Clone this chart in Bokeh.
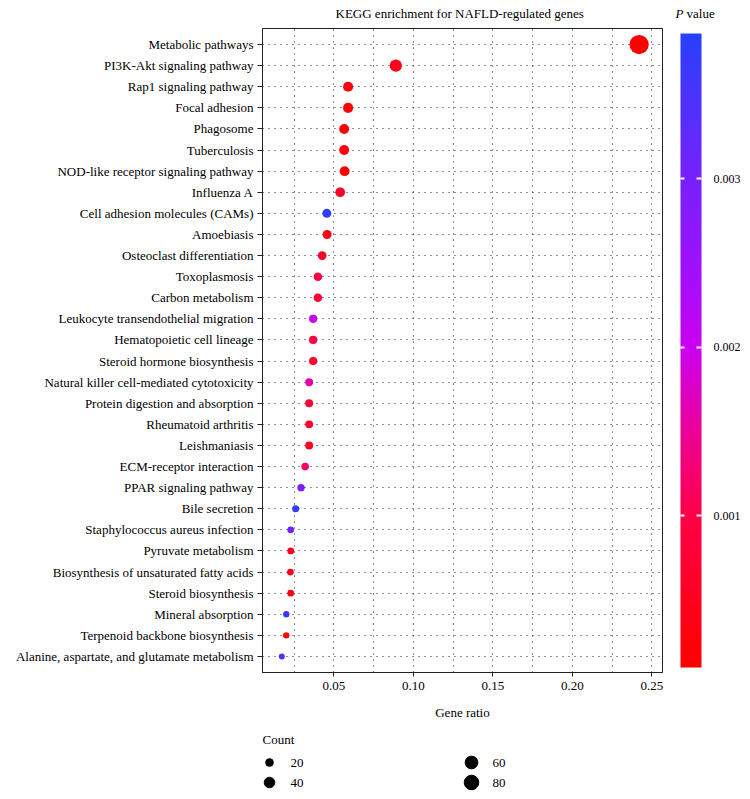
import numpy as np
from bokeh.plotting import figure
from bokeh.models import (ColumnDataSource, Range1d, FactorRange, LinearColorMapper, ColorBar,
                          FixedTicker, Label, PrintfTickFormatter)
from bokeh.layouts import column
from bokeh.embed import file_html
from bokeh.resources import INLINE
from bokeh.core.properties import value

# ---------------- data (top to bottom as in the chart) ----------------
pathways = [
    "Metabolic pathways",
    "PI3K-Akt signaling pathway",
    "Rap1 signaling pathway",
    "Focal adhesion",
    "Phagosome",
    "Tuberculosis",
    "NOD-like receptor signaling pathway",
    "Influenza A",
    "Cell adhesion molecules (CAMs)",
    "Amoebiasis",
    "Osteoclast differentiation",
    "Toxoplasmosis",
    "Carbon metabolism",
    "Leukocyte transendothelial migration",
    "Hematopoietic cell lineage",
    "Steroid hormone biosynthesis",
    "Natural killer cell-mediated cytotoxicity",
    "Protein digestion and absorption",
    "Rheumatoid arthritis",
    "Leishmaniasis",
    "ECM-receptor interaction",
    "PPAR signaling pathway",
    "Bile secretion",
    "Staphylococcus aureus infection",
    "Pyruvate metabolism",
    "Biosynthesis of unsaturated fatty acids",
    "Steroid biosynthesis",
    "Mineral absorption",
    "Terpenoid backbone biosynthesis",
    "Alanine, aspartate, and glutamate metabolism",
]
gene_ratio = [0.242, 0.089, 0.059, 0.059, 0.0565, 0.0565, 0.0568, 0.054, 0.0456, 0.0458,
              0.0427, 0.040, 0.040, 0.037, 0.037, 0.037, 0.0345, 0.0345, 0.0345, 0.0345,
              0.032, 0.0294, 0.026, 0.0229, 0.0229, 0.0227, 0.0229, 0.0201, 0.0201, 0.0173]
counts = [86, 32, 21, 21, 20, 20, 20, 19, 16, 16,
          15, 14, 14, 13, 13, 13, 12, 12, 12, 12,
          11, 10, 9, 8, 8, 8, 8, 7, 7, 6]
p_values = [0.0001, 0.0004, 0.0003, 0.0002, 0.0001, 0.0003, 0.0002, 0.0006, 0.0038, 0.0004,
            0.0006, 0.0009, 0.0008, 0.0020, 0.0009, 0.0007, 0.0016, 0.0008, 0.0007, 0.0006,
            0.0012, 0.0029, 0.0037, 0.0031, 0.0005, 0.0004, 0.0003, 0.0036, 0.0002, 0.0034]
x_ticks = [0.05, 0.10, 0.15, 0.20, 0.25]
x_minor_ticks = [0.025, 0.075, 0.125, 0.175, 0.225]
p_ticks = [0.001, 0.002, 0.003]
legend_counts = [20, 40, 60, 80]

# ---------------- style ----------------
FONT = "Liberation Serif"
P_LOW, P_HIGH = 0.0001, 0.00386
X_LOW, X_HIGH = 0.00516, 0.2567


def dot_size(c):
    return 1.2 + 1.95 * np.sqrt(c)


# red -> magenta -> blue gradient
grad_pos = [0.0, 0.24, 0.37, 0.50, 0.63, 0.77, 1.0]
grad_rgb = [(255, 0, 0), (255, 0, 72), (236, 0, 150), (204, 0, 238),
            (160, 16, 255), (120, 32, 255), (40, 64, 255)]
palette = []
for t in np.linspace(0, 1, 256):
    rgb = [int(round(np.interp(t, grad_pos, [c[k] for c in grad_rgb]))) for k in range(3)]
    palette.append("#%02x%02x%02x" % tuple(rgb))
mapper = LinearColorMapper(palette=palette, low=P_LOW, high=P_HIGH)

# ---------------- main figure ----------------
W = 750
ML, MR, MT, MB = 262, 88, 28, 54
FW = W - ML - MR          # 400
FH = 644
H = MT + FH + MB          # 726

p = figure(width=W, height=H,
           y_range=FactorRange(factors=pathways[::-1], range_padding=0.26,
                               range_padding_units="absolute"),
           x_range=Range1d(X_LOW, X_HIGH),
           output_backend="svg", toolbar_location=None,
           min_border_left=ML, min_border_right=MR, min_border_top=MT, min_border_bottom=MB)
p.background_fill_color = "white"
p.border_fill_color = "white"
p.outline_line_color = "#222222"
p.outline_line_width = 1

src = ColumnDataSource(dict(pathway=pathways, ratio=gene_ratio, count=counts, p=p_values,
                            size=[dot_size(c) for c in counts]))
p.scatter("ratio", "pathway", size="size", source=src,
          fill_color={"field": "p", "transform": mapper}, line_color=None)

xt = FixedTicker(ticks=x_ticks, minor_ticks=x_minor_ticks)
p.xaxis.ticker = xt
p.xgrid.ticker = xt
p.xaxis.formatter = PrintfTickFormatter(format="%.2f")
for g in (p.xgrid, p.ygrid):
    g.grid_line_color = "#222222"
    g.grid_line_dash = "1 5"
    g.grid_line_width = 1
p.xgrid.minor_grid_line_color = "#222222"
p.xgrid.minor_grid_line_dash = "1 5"

for ax in (p.xaxis, p.yaxis):
    ax.axis_line_color = "#222222"
    ax.major_tick_line_color = "#222222"
    ax.minor_tick_line_color = None
    ax.major_tick_in = 0
    ax.major_label_text_font = FONT
    ax.major_label_text_font_size = "13px"
    ax.major_label_text_color = "black"
p.xaxis.major_tick_out = 4
p.xaxis.major_label_standoff = 5
p.yaxis.major_tick_out = 5
p.yaxis.major_label_standoff = 4
p.xaxis.axis_label = "Gene ratio"
p.xaxis.axis_label_text_font = FONT
p.xaxis.axis_label_text_font_size = "13px"
p.xaxis.axis_label_text_font_style = "normal"
p.xaxis.axis_label_text_color = "black"
p.xaxis.axis_label_standoff = 12

# colour bar (location relative to the frame's lower-left corner)
CB_X, CB_Y, CB_W, CB_H = 418, 5, 21, 634
cb = ColorBar(color_mapper=mapper, ticker=FixedTicker(ticks=p_ticks),
              formatter=PrintfTickFormatter(format="%.3f"), orientation="vertical",
              width=CB_W, height=CB_H, location=(CB_X, CB_Y), padding=0, margin=0,
              major_label_text_font=FONT, major_label_text_font_size="12px",
              major_label_text_color="black",
              label_standoff=12, major_tick_line_color="white",
              major_tick_in=5, major_tick_out=0, major_tick_line_width=2,
              minor_tick_line_color=None,
              bar_line_color=None, border_line_color=None, background_fill_color=None)
p.add_layout(cb)
# left-edge white notches of the colour bar
cb_left = ColorBar(color_mapper=mapper, ticker=FixedTicker(ticks=p_ticks), orientation="vertical",
                   width=1, height=CB_H, location=(CB_X - 1, CB_Y), padding=0, margin=0,
                   scale_alpha=0, major_label_text_alpha=0,
                   major_tick_line_color="white", major_tick_in=0, major_tick_out=4,
                   major_tick_line_width=2, minor_tick_line_color=None,
                   bar_line_color=None, border_line_color=None, background_fill_color=None)
p.add_layout(cb_left)

# header texts: carried as tick labels of invisible helper bars (not clipped to the frame)
helper_mapper = LinearColorMapper(palette=["#ffffff"], low=0, high=1)


def header_text(text, x, standoff, style):
    return ColorBar(color_mapper=helper_mapper, ticker=FixedTicker(ticks=[0.5]),
                    major_label_overrides={0.5: text}, orientation="vertical",
                    width=1, height=20, location=(x, FH + 5), padding=0, margin=0,
                    scale_alpha=0, major_tick_line_color=None, minor_tick_line_color=None,
                    bar_line_color=None, border_line_color=None, background_fill_color=None,
                    label_standoff=standoff, major_label_text_font=FONT,
                    major_label_text_font_size="13px", major_label_text_font_style=style,
                    major_label_text_color="black")


p.add_layout(header_text("KEGG enrichment for NAFLD-regulated genes", 72, 0, "normal"))
p.add_layout(header_text("P", FW, 12, "italic"))
p.add_layout(header_text("value", FW, 23, "normal"))

# ---------------- size legend (its frame aligns with the main frame) ----------------
LH = 68
lg = figure(width=W, height=LH, x_range=Range1d(ML, ML + FW), y_range=Range1d(H + LH, H),
            output_backend="svg", toolbar_location=None, x_axis_type=None, y_axis_type=None,
            min_border=0)
lg.outline_line_color = None
lg.grid.visible = False
lg.background_fill_color = "white"
lg.border_fill_color = "white"

col_x = [269, 471]
row_y = [762, 782]
lx = [col_x[i // 2] for i in range(len(legend_counts))]
ly = [row_y[i % 2] for i in range(len(legend_counts))]
lsrc = ColumnDataSource(dict(x=lx, y=ly, tx=[v + 21 for v in lx],
                             size=[0.78 * dot_size(c) for c in legend_counts],
                             label=[str(c) for c in legend_counts]))
lg.scatter("x", "y", size="size", source=lsrc, color="black")
lg.text("tx", "y", text="label", source=lsrc, text_font=value(FONT),
        text_font_size=value("13px"), text_baseline="middle", text_color="black")
lg.add_layout(Label(x=ML, y=739, text="Count", text_font=FONT, text_font_size="13px",
                    text_baseline="middle", text_color="black"))

layout = column(p, lg, spacing=0)
open("out.html", "w").write(file_html(layout, INLINE))
